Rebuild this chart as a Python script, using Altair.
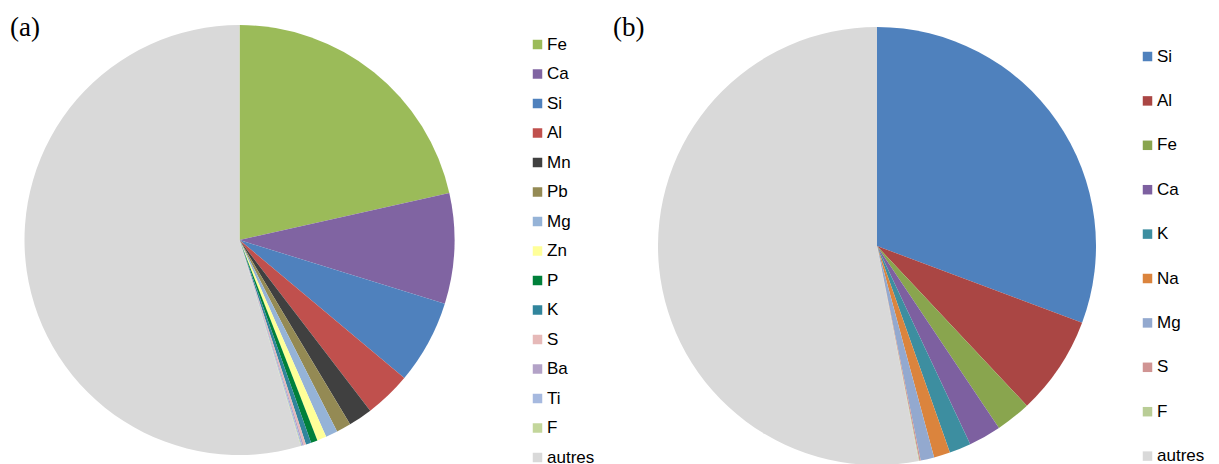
import altair as alt
import pandas as pd

# ---- data (percent) ----
elements_a = ["Fe", "Ca", "Si", "Al", "Mn", "Pb", "Mg", "Zn", "P", "K", "S", "Ba", "Ti", "F", "autres"]
values_a = [21.5, 8.3, 6.3, 3.5, 1.8, 1.1, 0.9, 0.7, 0.5, 0.4, 0.17, 0.11, 0.08, 0.05, 54.59]
colors_a = ["#9BBB59", "#8064A2", "#4F81BD", "#C0504D", "#404040", "#948A54", "#95B3D7",
            "#FFFF99", "#00803A", "#31859C", "#E6B9B8", "#B3A2C7", "#A6B9DF", "#C3D69B", "#D9D9D9"]

elements_b = ["Si", "Al", "Fe", "Ca", "K", "Na", "Mg", "S", "F", "autres"]
values_b = [30.7, 7.3, 2.6, 2.4, 1.6, 1.2, 1.0, 0.1, 0.05, 53.05]
colors_b = ["#4F81BD", "#AA4644", "#89A54E", "#7D60A0", "#3D8EA0", "#DB843D", "#93A9CF",
            "#D09493", "#B9CD96", "#D9D9D9"]

df_a = pd.DataFrame({"el": elements_a, "value": values_a, "idx": list(range(len(elements_a)))})
df_b = pd.DataFrame({"el": elements_b, "value": values_b, "idx": list(range(len(elements_b)))})

FONT = "Liberation Sans"

def pie(df, elements, colors, cx, cy, r, lx, ly, rowpad):
    return alt.Chart(df).mark_arc(radius=r, stroke=None).encode(
        theta=alt.Theta("value:Q", stack=True),
        order=alt.Order("idx:Q", sort="ascending"),
        color=alt.Color(
            "el:N",
            scale=alt.Scale(domain=elements, range=colors),
            sort=elements,
            legend=alt.Legend(
                title=None, orient="none", legendX=lx, legendY=ly,
                symbolType="square", symbolSize=90, symbolStrokeWidth=0,
                labelFont=FONT, labelFontSize=17, labelColor="#000000",
                labelOffset=1, rowPadding=rowpad, padding=0,
            ),
        ),
        x=alt.value(cx),
        y=alt.value(cy),
    )

pie_a = pie(df_a, elements_a, colors_a, 231.5, 232, 215, 521, 28, 11.5)
pie_b = pie(df_b, elements_b, colors_b, 869, 238, 219, 1131, 40, 26.4)

lab_df = pd.DataFrame({"t": ["(a)", "(b)"], "px": [2, 605], "py": [28, 28]})
labels = alt.Chart(lab_df).mark_text(
    font="Liberation Serif", fontSize=27, align="left", baseline="alphabetic", color="#000000"
).encode(
    text="t:N",
    x=alt.X("px:Q", scale=alt.Scale(domain=[0, 1203], range=[0, 1203], nice=False, zero=False), axis=None),
    y=alt.Y("py:Q", scale=alt.Scale(domain=[0, 456], range=[0, 456], nice=False, zero=False), axis=None),
)

chart = alt.layer(pie_a, pie_b, labels).resolve_scale(
    color="independent", theta="independent"
).properties(
    width=1203, height=456, padding=0, autosize="none", background="#FFFFFF"
).configure_view(stroke=None)

chart.save("out.html", embed_options={"renderer": "svg", "actions": False})
